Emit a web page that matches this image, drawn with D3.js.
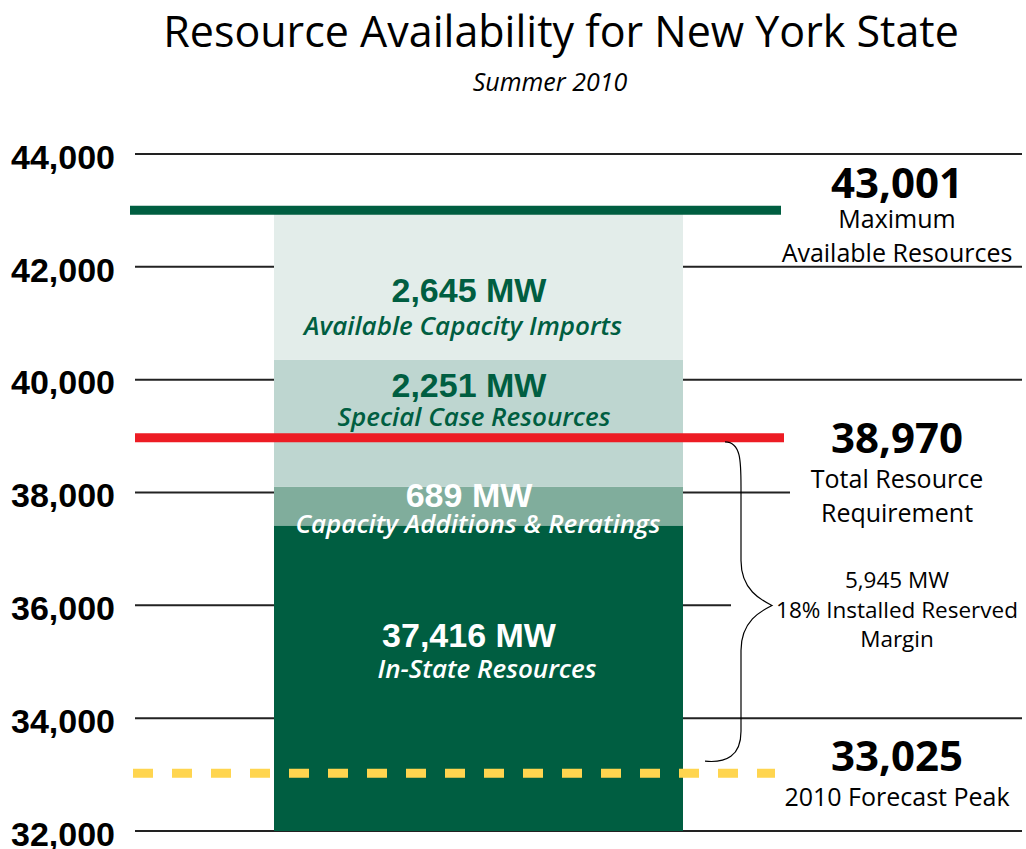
<!DOCTYPE html>
<html>
<head>
<meta charset="utf-8">
<script src="https://cdn.jsdelivr.net/npm/d3@7"></script>
<style>
  body { margin: 0; background: #fff; }
  svg { display: block; }
</style>
</head>
<body>
<svg id="chart"></svg>
<script>
// Stack, bottom to top
const SEGMENT_NAMES = ['In-State Resources', 'Capacity Additions & Reratings', 'Special Case Resources', 'Available Capacity Imports'];
const SEGMENT_MW = [37416, 689, 2251, 2645];

const Y_TICKS = [32000, 34000, 36000, 38000, 40000, 42000, 44000];

// Reference lines: max available, total requirement, forecast peak
const REF_VALUES = [43001, 38970, 33025];
const REF_TITLES = [['Maximum', 'Available Resources'], ['Total Resource', 'Requirement'], ['2010 Forecast Peak']];

const RESERVE_MW = 5945;
const RESERVE_PCT = '18%';

const width = 1026;
const height = 849;

const SEG_FILL = ['#005e41', '#80ad9c', '#bed6d0', '#e3edea'];
const SEG_TEXT = ['#fff', '#fff', '#005e41', '#005e41'];
// baseline offsets (value line, name line) from the segment top
const SEG_LABEL_DY = [[122, 153], [20, 46], [37, 66], [92, 125]];
const SEG_LABEL_X = [487, 478, 474, 463];

const REF_COLORS = ['#005e41', '#ed1c24', '#ffd54f'];
const REF_X = [[130, 781], [135, 784], [133, 775]];
const REF_LABEL_DY = [-12, 15, -2];
// where each gridline stops on the right (labels interrupt some)
const GRID_END = [1022, 1022, 731, 790, 1022, 1022, 1022];

const y = d3.scaleLinear().domain([32000, 44000]).range([831, 154]);
const bar = { x0: 274, x1: 683 };
const labelX = 897;

const svg = d3.select('#chart')
  .attr('width', width)
  .attr('height', height)
  .attr('viewBox', `0 0 ${width} ${height}`);

// Title
svg.append('text')
  .attr('x', 561).attr('y', 47)
  .attr('text-anchor', 'middle')
  .attr('font-family', 'Open Sans, sans-serif')
  .attr('font-size', 43)
  .attr('fill', '#000')
  .text('Resource Availability for New York State');

svg.append('text')
  .attr('x', 550).attr('y', 91)
  .attr('text-anchor', 'middle')
  .attr('font-family', 'Open Sans, sans-serif')
  .attr('font-style', 'italic')
  .attr('font-size', 25)
  .text('Summer 2010');

// Gridlines
svg.append('g')
  .selectAll('line')
  .data(Y_TICKS)
  .join('line')
  .attr('x1', 135)
  .attr('x2', (d, i) => GRID_END[i])
  .attr('y1', d => y(d))
  .attr('y2', d => y(d))
  .attr('stroke', '#222')
  .attr('stroke-width', 2);

// Axis labels
const axis = svg.append('g')
  .attr('transform', 'translate(115,0)')
  .call(d3.axisLeft(y).tickValues(Y_TICKS).tickFormat(d3.format(',')).tickSize(0).tickPadding(0));
axis.select('.domain').remove();
axis.selectAll('text')
  .attr('font-family', 'Liberation Sans, Arial, sans-serif')
  .attr('font-weight', 'bold')
  .attr('font-size', 34)
  .attr('fill', '#000')
  .attr('dy', '0.42em');

// Stacked bar
const tops = d3.cumsum(SEGMENT_MW);
const segs = SEGMENT_MW.map((v, i) => ({
  name: SEGMENT_NAMES[i],
  mw: v,
  y0: i === 0 ? 0 : tops[i - 1],
  y1: tops[i],
  i
}));

svg.append('g')
  .selectAll('rect')
  .data(segs)
  .join('rect')
  .attr('x', bar.x0)
  .attr('width', bar.x1 - bar.x0)
  .attr('y', d => y(d.y1))
  .attr('height', d => y(Math.max(d.y0, 32000)) - y(d.y1))
  .attr('fill', d => SEG_FILL[d.i]);

const segLabels = svg.append('g')
  .selectAll('g')
  .data(segs)
  .join('g');

segLabels.append('text')
  .attr('x', 469)
  .attr('y', d => y(d.y1) + SEG_LABEL_DY[d.i][0])
  .attr('text-anchor', 'middle')
  .attr('font-family', 'Liberation Sans, Arial, sans-serif')
  .attr('font-weight', 'bold')
  .attr('font-size', 34)
  .attr('fill', d => SEG_TEXT[d.i])
  .text(d => `${d3.format(',')(d.mw)} MW`);

segLabels.append('text')
  .attr('x', d => SEG_LABEL_X[d.i])
  .attr('y', d => y(d.y1) + SEG_LABEL_DY[d.i][1])
  .attr('text-anchor', 'middle')
  .attr('font-family', 'Open Sans, sans-serif')
  .attr('font-style', 'italic')
  .attr('font-weight', 600)
  .attr('font-size', 26)
  .attr('fill', d => SEG_TEXT[d.i])
  .text(d => d.name);

// Reference lines
svg.append('g')
  .selectAll('line')
  .data(REF_VALUES)
  .join('line')
  .attr('x1', (d, i) => REF_X[i][0])
  .attr('x2', (d, i) => REF_X[i][1])
  .attr('y1', d => y(d))
  .attr('y2', d => y(d))
  .attr('stroke', (d, i) => REF_COLORS[i])
  .attr('stroke-width', 9)
  .attr('stroke-dasharray', (d, i) => i === 2 ? '20 19' : null);

// Reserve margin brace between requirement and peak
const bTop = y(REF_VALUES[1]) + 4;
const bBot = y(REF_VALUES[2]) - 12;
const bMid = (bTop + bBot) / 2 + 4;
const bx0 = 725, bx1 = 741, tip = 772;
const brace = d3.path();
brace.moveTo(bx0, bTop);
brace.bezierCurveTo(bx1, bTop, bx1, bTop + 20, bx1, bTop + 45);
brace.lineTo(bx1, bMid - 45);
brace.bezierCurveTo(bx1, bMid - 15, tip - 10, bMid - 5, tip, bMid);
brace.bezierCurveTo(tip - 10, bMid + 5, bx1, bMid + 15, bx1, bMid + 45);
brace.lineTo(bx1, bBot - 30);
brace.bezierCurveTo(bx1, bBot - 5, bx1 - 15, bBot + 2, bx0 - 20, bBot);
svg.append('path')
  .attr('d', brace.toString())
  .attr('fill', 'none')
  .attr('stroke', '#000')
  .attr('stroke-width', 1.2);

// Right-hand annotations
const refLabels = svg.append('g')
  .selectAll('g')
  .data(REF_VALUES)
  .join('g')
  .attr('transform', (d, i) => `translate(${labelX},${y(d) + REF_LABEL_DY[i]})`);

refLabels.append('text')
  .attr('text-anchor', 'middle')
  .attr('font-family', 'Open Sans, sans-serif')
  .attr('font-weight', 'bold')
  .attr('font-size', 42)
  .attr('fill', '#000')
  .text(d => d3.format(',')(d));

refLabels.each(function (d, i) {
  d3.select(this).selectAll('text.sub')
    .data(REF_TITLES[i])
    .join('text')
    .attr('class', 'sub')
    .attr('y', (t, j) => (i === 0 ? 30 : 35) + j * 34)
    .attr('text-anchor', 'middle')
    .attr('font-family', 'Open Sans, sans-serif')
    .attr('font-size', 25)
    .attr('fill', '#000')
    .text(t => t);
});

svg.append('g')
  .selectAll('text')
  .data([`${d3.format(',')(RESERVE_MW)} MW`, `${RESERVE_PCT} Installed Reserved`, 'Margin'])
  .join('text')
  .attr('x', labelX)
  .attr('y', (d, i) => 588 + i * 29.5)
  .attr('text-anchor', 'middle')
  .attr('font-family', 'Open Sans, sans-serif')
  .attr('font-size', 22.5)
  .attr('fill', '#000')
  .text(d => d);
</script>
</body>
</html>
